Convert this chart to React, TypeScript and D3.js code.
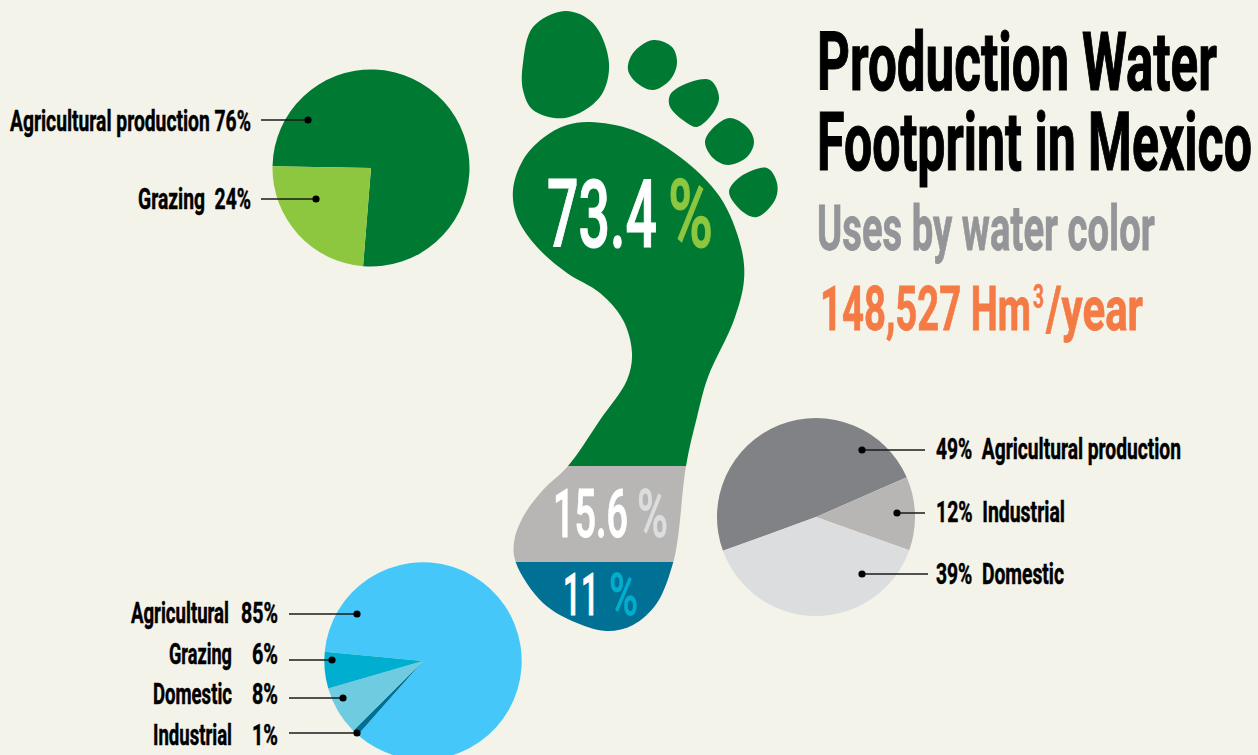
import React from "react";
import * as d3 from "d3";

const W = 1258, H = 755;
const BG = "#f4f3ea";

// Pie data
const greenLabels = ["Agricultural production", "Grazing"];
const greenValues = [76, 24];
const greyLabels = ["Agricultural production", "Industrial", "Domestic"];
const greyValues = [49, 12, 39];
const blueLabels = ["Agricultural", "Industrial", "Domestic", "Grazing"];
const blueValues = [85, 1, 8, 6];

// Footprint shares
const footShares = ["73.4", "15.6", "11"];

// Colours
const greenColors = ["#007a33", "#8dc63f"];
const greyColors = ["#808285", "#b7b6b4", "#dcddde"];
const blueColors = ["#45c8f9", "#006f94", "#6fcbe0", "#00aed0"];

// Foot outline (traced shape)
const sole: [number, number][] = [[590,122],[633,130],[680,157],[720,197],[741,247],[744,280],[734,320],[708,377],[697,417],[686,466],[678,537],[673,563],[657,603],[633,625],[607,631],[577,623],[543,603],[516,563],[514,542],[523,517],[543,490],[568,466],[600,420],[627,380],[632,353],[623,320],[600,293],[567,273],[537,247],[517,217],[513,190],[523,160],[543,138],[567,125]];
const toes: [number, number][][] = [
  [[565,11],[593,23],[609,63],[600,97],[565,118],[533,110],[523,90],[523,63],[533,27]],
  [[653,40],[672,47],[677,63],[670,80],[653,90],[637,83],[628,70],[633,53]],
  [[710,80],[719,97],[713,113],[697,127],[687,123],[670,107],[670,95],[683,85]],
  [[730,118],[748,128],[754,142],[747,157],[728,165],[713,158],[705,142],[713,128]],
  [[767,168],[777,183],[775,200],[757,217],[743,212],[729,192],[740,177]],
];
const bandEdges = [0, 466, 562, H];
const bandColors = ["#007a33", "#b7b6b4", "#007095"];

const blob = d3.line().curve(d3.curveCatmullRomClosed.alpha(0.5));

const FONT = "Roboto, sans-serif";
const measureCtx = document.createElement("canvas").getContext("2d")!;

function T({ x, w, y, size, fill = "#000", weight = 700, bold = 0, text }: any) {
  measureCtx.font = `${weight} ${size}px Roboto, sans-serif`;
  const natural = measureCtx.measureText(text).width || 1;
  const sx = w / natural;
  return (
    <text transform={`translate(${x},${y}) scale(${sx},1)`} fontSize={size} fill={fill}
      fontWeight={weight} fontFamily={FONT} stroke={bold ? fill : "none"} strokeWidth={bold}
      style={{ whiteSpace: "pre" }}>{text}</text>
  );
}

function Pie({ cx, cy, r, values, colors, start }: any) {
  const deg = Math.PI / 180;
  const arcs = d3.pie<number>().sort(null).startAngle(start * deg).endAngle((start + 360) * deg)(values);
  const arc = d3.arc<any>().innerRadius(0).outerRadius(r);
  return (
    <g transform={`translate(${cx},${cy})`}>
      {arcs.map((a, i) => <path key={i} d={arc(a) as string} fill={colors[i]} />)}
    </g>
  );
}

function Leader({ x1, x2, y }: any) {
  const dot = x1 > 600 ? x1 : x2;
  return (
    <g>
      <line x1={x1} x2={x2} y1={y} y2={y} stroke="#1a1a1a" strokeWidth={1.5} />
      <circle cx={dot} cy={y} r={3.6} fill="#000" />
    </g>
  );
}

export default function App() {
  const footPath = blob(sole) as string;
  const L = 0.5;
  return (
    <svg width={W} height={H} viewBox={`0 0 ${W} ${H}`}
      style={{ position: "fixed", left: 0, top: 0, display: "block" }}>
      <rect width={W} height={H} fill={BG} />
      <defs>
        {bandColors.map((_, i) => (
          <clipPath id={`band${i}`} key={i}>
            <rect x={0} y={bandEdges[i]} width={W} height={bandEdges[i + 1] - bandEdges[i]} />
          </clipPath>
        ))}
      </defs>

      {toes.map((t, i) => <path key={i} d={blob(t) as string} fill={bandColors[0]} />)}
      {bandColors.map((c, i) => <path key={i} d={footPath} fill={c} clipPath={`url(#band${i})`} />)}

      <T x={547} w={110} y={247} size={94} fill="#fff" weight={500} bold={1.2} text={footShares[0]} />
      <T x={668} w={45} y={247} size={94} fill="#8dc63f" weight={500} bold={1.2} text="%" />
      <T x={553} w={75} y={537} size={66} fill="#fff" weight={500} bold={1} text={footShares[1]} />
      <T x={637} w={31} y={537} size={66} fill="#dcddde" weight={500} bold={0.6} text="%" />
      <T x={563} w={36} y={615} size={60} fill="#fff" weight={500} bold={1} text={footShares[2]} />
      <T x={609} w={29} y={615} size={60} fill="#00aed0" weight={500} bold={0.6} text="%" />

      <Pie cx={371} cy={168} r={98.5} values={greenValues} colors={greenColors} start={271} />
      <Pie cx={816} cy={517} r={99} values={greyValues} colors={greyColors} start={250} />
      <Pie cx={423} cy={661} r={98.7} values={blueValues} colors={blueColors} start={275.4} />

      <T x={817} w={400} y={90} size={82} bold={1.2} text="Production Water" />
      <T x={817} w={435} y={170} size={82} bold={1.2} text="Footprint in Mexico" />
      <T x={817} w={338} y={250} size={63} fill="#939598" bold={0.8} text="Uses by water color" />
      <T x={820} w={211} y={330} size={62} fill="#f47b45" bold={0.8} text="148,527 Hm" />
      <T x={1033} w={11} y={308} size={33} fill="#f47b45" bold={0.4} text="3" />
      <T x={1046} w={97} y={330} size={62} fill="#f47b45" bold={0.8} text="/year" />

      <Leader x1={261} x2={308} y={120} />
      <T x={10} w={241} y={131} size={30} bold={L} text={`${greenLabels[0]} ${greenValues[0]}%`} />
      <Leader x1={261} x2={316} y={199} />
      <T x={138} w={113} y={209} size={30} bold={L} text={`${greenLabels[1]}  ${greenValues[1]}%`} />

      <Leader x1={862} x2={925} y={450} />
      <T x={936} w={245} y={459} size={30} bold={L} text={`${greyValues[0]}%  ${greyLabels[0]}`} />
      <Leader x1={897} x2={925} y={513} />
      <T x={936} w={129} y={522} size={30} bold={L} text={`${greyValues[1]}%  ${greyLabels[1]}`} />
      <Leader x1={862} x2={928} y={574} />
      <T x={936} w={128} y={584} size={30} bold={L} text={`${greyValues[2]}%  ${greyLabels[2]}`} />

      <Leader x1={289} x2={357} y={614} />
      <T x={131} w={98} y={623} size={30} bold={L} text={blueLabels[0]} />
      <T x={241} w={37} y={623} size={30} bold={L} text={`${blueValues[0]}%`} />
      <Leader x1={289} x2={332} y={660} />
      <T x={169} w={63} y={664} size={30} bold={L} text={blueLabels[3]} />
      <T x={252} w={26} y={664} size={30} bold={L} text={`${blueValues[3]}%`} />
      <Leader x1={289} x2={343} y={698} />
      <T x={153} w={79} y={704} size={30} bold={L} text={blueLabels[2]} />
      <T x={252} w={26} y={704} size={30} bold={L} text={`${blueValues[2]}%`} />
      <Leader x1={289} x2={357} y={733} />
      <T x={153} w={79} y={745} size={30} bold={L} text={blueLabels[1]} />
      <T x={252} w={26} y={745} size={30} bold={L} text={`${blueValues[1]}%`} />
    </svg>
  );
}
